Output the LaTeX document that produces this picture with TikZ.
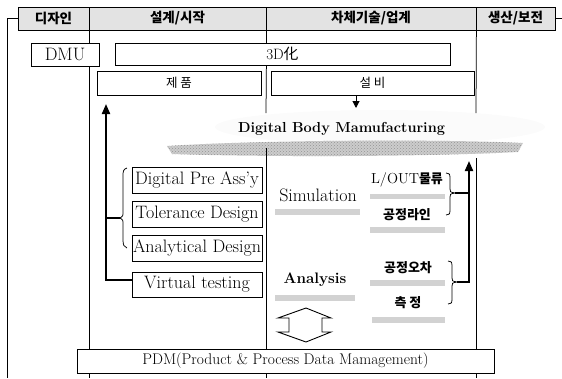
\documentclass[tikz,border=0pt]{standalone}
\usepackage{fontspec}
\newfontfamily\kr{Noto Sans CJK KR}
\usetikzlibrary{arrows.meta,patterns}
\begin{document}
\begin{tikzpicture}[x=1pt,y=-1pt,
  ln/.style={line width=0.75pt},
  thk/.style={line width=2pt},
  box/.style={draw, line width=0.75pt, inner sep=0pt, fill=white, font=\fontsize{18}{18}\selectfont},
  hdr/.style={draw, line width=0.8pt, fill=gray!22, inner sep=0pt, minimum height=23pt, font=\kr\bfseries\fontsize{13.5}{13.5}\selectfont},
  kt/.style={inner sep=0pt, font=\kr\bfseries\fontsize{13}{13}\selectfont},
  band/.style={fill=gray!35, draw=none},
  tipT/.style={-{Triangle[length=10pt,width=8pt]}}
]
\useasboundingbox (0,0) rectangle (562,378);

% faint cloud and bands
\fill[gray!3] (380,127) ellipse (165 and 17);
\fill[gray!40] (167,146) .. controls (260,140) and (440,139) .. (523,143) -- (518,152) .. controls (420,157) and (260,157) .. (172,154) -- cycle;
\fill[pattern=crosshatch dots, pattern color=gray!85] (167,146) .. controls (260,140) and (440,139) .. (523,143) -- (518,152) .. controls (420,157) and (260,157) .. (172,154) -- cycle;
\fill[band] (275,209) rectangle (360,215);
\fill[band] (370,194) rectangle (445,199);
\fill[band] (370,227) rectangle (445,233);
\fill[band] (275,295) rectangle (355,301);
\fill[band] (370,280) rectangle (445,286);
\fill[band] (372,317) rectangle (445,323);

% header
\node[hdr, minimum width=71pt] (hd1) at (53.5,18.5) {디자인};
\node[hdr, minimum width=177pt] (hd2) at (177.5,18.5) {설계/시작};
\node[hdr, minimum width=210pt] (hd3) at (371,18.5) {차체기술/업계};
\node[hdr, minimum width=79pt] (hd4) at (515.5,18.5) {생산/보전};

% boxes
\node[box, minimum width=68pt, minimum height=23pt] (dmu) at (65,54.5) {DMU};
\node[box, minimum width=335pt, minimum height=22pt, font=\fontsize{15}{15}\selectfont] (td) at (282.5,54) {3D{\kr 化}};
\node[box, minimum width=164pt, minimum height=24pt, font=\kr\fontsize{12.5}{12.5}\selectfont] (jp) at (179,83) {제 품};
\node[box, minimum width=203pt, minimum height=24pt, font=\kr\fontsize{12.5}{12.5}\selectfont] (sb) at (372.5,83) {설 비};
\node[box, minimum width=130pt, minimum height=26pt] (dpa) at (197,180) {Digital Pre Ass'y};
\node[box, minimum width=130pt, minimum height=26pt] (tol) at (197,214) {Tolerance Design};
\node[box, minimum width=130pt, minimum height=26pt] (anad) at (197,248) {Analytical Design};
\node[box, minimum width=130pt, minimum height=25pt] (vt) at (197,284.5) {Virtual testing};
\node[box, minimum width=417pt, minimum height=24pt, font=\fontsize{15.5}{15.5}\selectfont] (pdm) at (285.5,361) {PDM(Product \& Process Data Mamagement)};

% frame coordinates
\coordinate (bl) at (7,378);
\coordinate (br) at (562,18.5);
\coordinate (b1) at (89,378);
\coordinate (b2) at (266,378);
\coordinate (b3) at (476,378);
\coordinate (ga1) at (266,113);
\coordinate (ga2) at (266,148);
\coordinate (gb1) at (476,113);
\coordinate (gb2) at (476,158);

\draw[ln] (hd1.west) -| (bl);
\draw[ln] (hd4.east) -- (br);
% line x=89
\draw[ln] (hd1.south east) -- (hd1.south east |- dmu.north);
\draw[ln] (hd1.south east |- dmu.south) -- (hd1.south east |- pdm.north);
\draw[ln] (b1 |- pdm.south) -- (b1);
% line x=266
\draw[ln] (hd2.south east) -- (hd2.south east |- td.north);
\draw[ln] (hd2.south east |- td.south) -- (ga1);
\draw[ln] (ga2) -- (ga2 |- pdm.north);
\draw[ln] (b2 |- pdm.south) -- (b2);
% line x=476
\draw[ln] (hd3.south east) -- (gb1);
\draw[ln] (gb2) -- (gb2 |- pdm.north);
\draw[ln] (b3 |- pdm.south) -- (b3);

% texts
\node[inner sep=0pt, font=\bfseries\fontsize{14.5}{14}\selectfont] (dbm) at (341.5,129) {Digital Body Mamufacturing};
\node[inner sep=0pt, font=\fontsize{18}{18}\selectfont] (sim) at (318,195) {Simulation};
\node[inner sep=0pt, font=\bfseries\fontsize{15.2}{15}\selectfont] (ana) at (315,280) {Analysis};
\node[kt] (lout) at (407,180) {{\rmfamily\mdseries\fontsize{14.5}{14}\selectfont L/OUT}물류};
\node[kt] (gl) at (407,215) {공정라인};
\node[kt] (go) at (408,268) {공정오차};
\node[kt] (cj) at (408,303) {측 정};

% down arrow from 설비
\coordinate (dtip) at (356,108);
\draw[line width=1pt, -{Triangle[length=7pt,width=7pt]}] (dtip |- sb.south) -- (dtip);

% left brace and thick arrow
\coordinate (lbt) at (120,218);
\coordinate (lbr) at (106,218);
\coordinate (lc) at (106,280);
\coordinate (ltip) at (106,104);
\draw[ln] (127,168) .. controls (123,169) and (123,172) .. (123,176) -- (123,212) .. controls (123,216) .. (lbt) .. controls (123,220) .. (123,224) -- (123,240) .. controls (123,245) and (124,247) .. (127,248);
\draw[thk, tipT] (lc -| vt.west) -- (lc) -- (ltip);
\draw[thk] (lbr) -- (lbt);

% right braces and thick arrow
\coordinate (rt1) at (455,193);
\coordinate (rt2) at (457,282);
\coordinate (rc) at (469,282);
\coordinate (rtip) at (469,161);
\draw[ln] (446,173) .. controls (450,174) .. (450,177) -- (450,189) .. controls (450,192) .. (rt1) .. controls (450,194) .. (450,197) -- (450,211) .. controls (450,214) .. (446,215);
\draw[ln] (448,261) .. controls (452,262) .. (452,265) -- (452,278) .. controls (452,281) .. (rt2) .. controls (452,283) .. (452,286) -- (452,300) .. controls (452,303) .. (448,304);
\draw[thk, tipT] (rt2) -- (rc) -- (rtip);
\draw[thk] (rt1) -- (rt1 -| rc);

% hollow double arrow
\draw[line width=0.9pt, line join=miter] (306,308) -- (331,318) -- (322,318) -- (322,332) -- (331,332) -- (306,342) -- (278,332) -- (289,332) -- (289,318) -- (278,318) -- cycle;
\end{tikzpicture}
\end{document}
